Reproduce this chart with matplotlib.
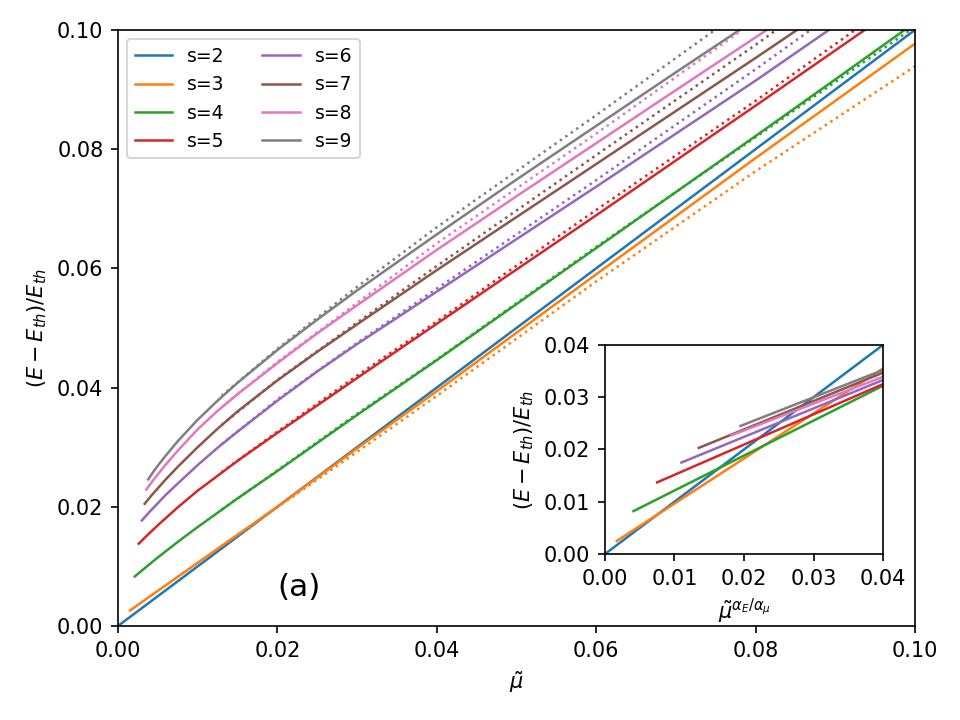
import matplotlib
matplotlib.use("Agg")
import matplotlib.pyplot as plt

colors = ["C0", "C1", "C2", "C3", "C4", "C5", "C6", "C7"]
labels = ["s=2", "s=3", "s=4", "s=5", "s=6", "s=7", "s=8", "s=9"]

# main panel: solid curves (mu, (E-Eth)/Eth)
mu_s2 = [0.0, 0.1]
y_s2 = [0.0, 0.1]
mu_s3 = [0.0015, 0.005, 0.01, 0.02, 0.03, 0.04, 0.06, 0.08, 0.1]
y_s3 = [0.0026, 0.0059, 0.0106, 0.0200, 0.0298, 0.0394, 0.0590, 0.0785, 0.0977]
mu_s4 = [0.0021, 0.003, 0.005, 0.0075, 0.01, 0.015, 0.02, 0.03, 0.04, 0.05, 0.06, 0.07, 0.08, 0.09, 0.0987]
y_s4 = [0.0083, 0.0093, 0.0115, 0.0141, 0.0166, 0.0214, 0.0260, 0.0354, 0.0446, 0.0540,
        0.0634, 0.0728, 0.0822, 0.0917, 0.1]
mu_s5 = [0.0026, 0.0035, 0.005, 0.0075, 0.01, 0.0125, 0.015, 0.02, 0.025, 0.03, 0.04, 0.05,
         0.06, 0.07, 0.08, 0.0937]
y_s5 = [0.0138, 0.0150, 0.0169, 0.0199, 0.0227, 0.0252, 0.0277, 0.0324, 0.0370, 0.0416,
        0.0507, 0.0598, 0.0689, 0.0781, 0.0873, 0.1]
mu_s6 = [0.0030, 0.004, 0.005, 0.006, 0.0075, 0.01, 0.0125, 0.015, 0.02, 0.025, 0.03, 0.04,
         0.05, 0.06, 0.07, 0.08, 0.0892]
y_s6 = [0.0177, 0.0192, 0.0206, 0.0220, 0.0239, 0.0270, 0.0299, 0.0326, 0.0378, 0.0427,
        0.0473, 0.0561, 0.0649, 0.0737, 0.0826, 0.0915, 0.1]
mu_s7 = [0.00335, 0.0042, 0.005, 0.006, 0.0075, 0.01, 0.0125, 0.015, 0.02, 0.025, 0.03, 0.04,
         0.05, 0.06, 0.07, 0.08, 0.0852]
y_s7 = [0.0205, 0.0219, 0.0231, 0.0246, 0.0267, 0.0300, 0.0331, 0.0360, 0.0412, 0.0460,
        0.0506, 0.0597, 0.0686, 0.0775, 0.0864, 0.0953, 0.1]
mu_s8 = [0.00356, 0.0045, 0.006, 0.0075, 0.01, 0.0125, 0.015, 0.02, 0.025, 0.03, 0.04,
         0.05, 0.06, 0.07, 0.0814]
y_s8 = [0.0229, 0.0246, 0.0271, 0.0294, 0.0330, 0.0361, 0.0389, 0.0441, 0.0491, 0.0538,
        0.0631, 0.0721, 0.0810, 0.0899, 0.1]
mu_s9 = [0.0038, 0.0045, 0.005, 0.006, 0.0075, 0.01, 0.0125, 0.015, 0.02, 0.025, 0.03,
         0.04, 0.05, 0.06, 0.07, 0.078]
y_s9 = [0.0246, 0.0260, 0.0269, 0.0286, 0.0310, 0.0346, 0.0378, 0.0408, 0.0463, 0.0514,
        0.0563, 0.0657, 0.0749, 0.0839, 0.0929, 0.1]

# main panel: dotted approximations
dmu_s3 = [0.013, 0.02, 0.03, 0.04, 0.06, 0.08, 0.1]
dy_s3 = [0.0134, 0.0199, 0.0292, 0.0386, 0.0578, 0.0763, 0.0939]
dmu_s4 = [0.013, 0.02, 0.03, 0.04, 0.06, 0.08, 0.0994]
dy_s4 = [0.0195, 0.0261, 0.0356, 0.0447, 0.0636, 0.0820, 0.1]
dmu_s5 = [0.013, 0.02, 0.03, 0.04, 0.06, 0.08, 0.0925]
dy_s5 = [0.0258, 0.0326, 0.0420, 0.0511, 0.0698, 0.0881, 0.1]
dmu_s6 = [0.013, 0.02, 0.03, 0.04, 0.06, 0.08, 0.0869]
dy_s6 = [0.0305, 0.0380, 0.0475, 0.0566, 0.0748, 0.0934, 0.1]
dmu_s7 = [0.013, 0.02, 0.03, 0.04, 0.06, 0.08, 0.0826]
dy_s7 = [0.0337, 0.0413, 0.0509, 0.0604, 0.0790, 0.0975, 0.1]
dmu_s8 = [0.013, 0.02, 0.03, 0.04, 0.06, 0.0783]
dy_s8 = [0.0367, 0.0443, 0.0542, 0.0642, 0.0826, 0.1]
dmu_s9 = [0.013, 0.02, 0.03, 0.04, 0.06, 0.0749]
dy_s9 = [0.0386, 0.0465, 0.0569, 0.0669, 0.0857, 0.1]

# inset: x = mu^(alpha_E/alpha_mu)
ix_s2 = [0.0, 0.04]
iy_s2 = [0.0, 0.04]
ix_s3 = [0.0017, 0.04]
iy_s3 = [0.0025, 0.0355]
ix_s4 = [0.0041, 0.04]
iy_s4 = [0.0082, 0.0322]
ix_s5 = [0.0075, 0.04]
iy_s5 = [0.0137, 0.0325]
ix_s6 = [0.0110, 0.04]
iy_s6 = [0.0175, 0.0333]
ix_s7 = [0.0135, 0.04]
iy_s7 = [0.0203, 0.0347]
ix_s8 = [0.0182, 0.04]
iy_s8 = [0.0227, 0.0339]
ix_s9 = [0.0195, 0.04]
iy_s9 = [0.0245, 0.0352]

solid = [(mu_s2, y_s2), (mu_s3, y_s3), (mu_s4, y_s4), (mu_s5, y_s5),
         (mu_s6, y_s6), (mu_s7, y_s7), (mu_s8, y_s8), (mu_s9, y_s9)]
dotted = [None, (dmu_s3, dy_s3), (dmu_s4, dy_s4), (dmu_s5, dy_s5),
          (dmu_s6, dy_s6), (dmu_s7, dy_s7), (dmu_s8, dy_s8), (dmu_s9, dy_s9)]
inset = [(ix_s2, iy_s2), (ix_s3, iy_s3), (ix_s4, iy_s4), (ix_s5, iy_s5),
         (ix_s6, iy_s6), (ix_s7, iy_s7), (ix_s8, iy_s8), (ix_s9, iy_s9)]

fig = plt.figure(figsize=(6.4, 4.8), dpi=150)
ax = fig.add_axes([0.1229, 0.1306, 0.8302, 0.8278])

for (x, y), c, lab in zip(solid, colors, labels):
    ax.plot(x, y, color=c, lw=1.2, label=lab)
for d, c in zip(dotted, colors):
    if d is not None:
        ax.plot(d[0], d[1], color=c, lw=1.2, ls=":")

ax.set_xlim(0, 0.1)
ax.set_ylim(0, 0.1)
ax.set_xlabel(r"$\tilde{\mu}$")
ax.set_ylabel(r"$(E-E_{th})/E_{th}$")
ax.legend(loc="upper left", ncol=2, fontsize=9)
ax.text(0.02, 0.005, "(a)", fontsize=15)

axin = fig.add_axes([0.6302, 0.2306, 0.2896, 0.2903])
for (x, y), c in zip(inset, colors):
    axin.plot(x, y, color=c, lw=1.2)
axin.set_xlim(0, 0.04)
axin.set_ylim(0, 0.04)
axin.set_xticks([0, 0.01, 0.02, 0.03, 0.04])
axin.set_yticks([0, 0.01, 0.02, 0.03, 0.04])
axin.set_xlabel(r"$\tilde{\mu}^{\alpha_E/\alpha_\mu}$")
axin.set_ylabel(r"$(E-E_{th})/E_{th}$")

fig.savefig("out.png", dpi=150)
